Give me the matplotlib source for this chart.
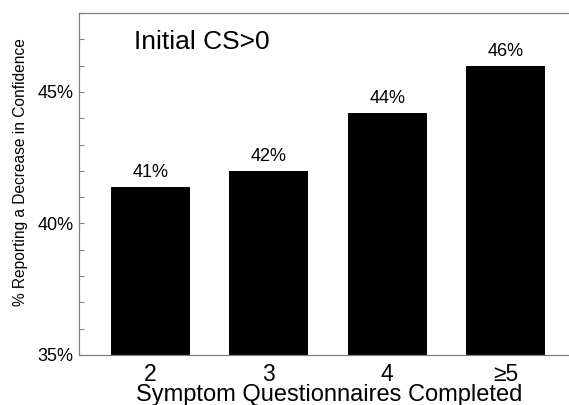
import matplotlib
matplotlib.use("Agg")
import matplotlib.pyplot as plt
from matplotlib.ticker import MultipleLocator, FuncFormatter

categories = ["2", "3", "4", "\u22655"]
values = [41.4, 42.0, 44.2, 46.0]
bar_labels = ["41%", "42%", "44%", "46%"]

plt.rcParams['font.family'] = ['Liberation Sans', 'DejaVu Sans']

fig = plt.figure(figsize=(5.69, 4.05), dpi=100)
ax = fig.add_axes([0.139, 0.1235, 0.859, 0.8445])

x = list(range(1, len(values) + 1))
ax.bar(x, values, width=0.67, color='black', bottom=0)
for xi, v, lab in zip(x, values, bar_labels):
    ax.annotate(lab, (xi, v), xytext=(0, 4), textcoords='offset points',
                ha='center', va='bottom', fontsize=13)

ax.set_xlim(0.398, 4.525)
ax.set_ylim(35, 48)
ax.set_xticks(x)
ax.set_xticklabels(categories, fontsize=16.5)
ax.tick_params(axis='x', length=0, pad=6)
ax.yaxis.set_major_locator(MultipleLocator(5))
ax.yaxis.set_minor_locator(MultipleLocator(1))
ax.yaxis.set_major_formatter(FuncFormatter(lambda v, p: f"{v:.0f}%"))
ax.tick_params(axis='y', which='both', direction='in', length=3.5, width=0.8,
               color='#808080', labelsize=13, pad=4)

for side in ['left', 'bottom', 'top']:
    ax.spines[side].set_color('#808080')
    ax.spines[side].set_linewidth(0.9)
ax.spines['right'].set_visible(False)

ax.set_xlabel("Symptom Questionnaires Completed", fontsize=17)
ax.xaxis.set_label_coords(0.512, -0.085)
ax.set_ylabel("% Reporting a Decrease in Confidence", fontsize=11.2)
ax.yaxis.set_label_coords(-0.104, 0.535)
ax.text(0.112, 0.915, "Initial CS>0", transform=ax.transAxes,
        fontsize=19, ha='left', va='center')

fig.savefig("out.png", dpi=100)
